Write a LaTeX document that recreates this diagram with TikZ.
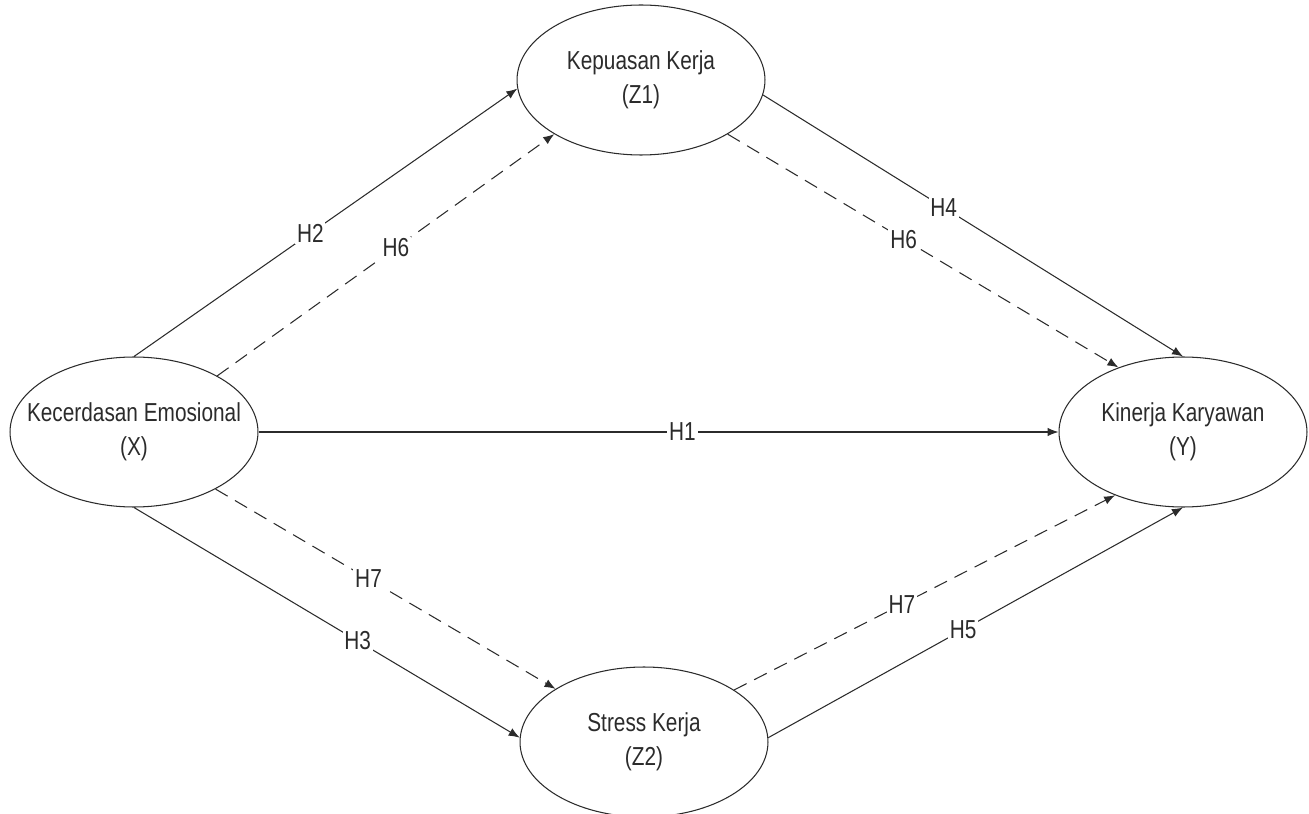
\documentclass[tikz,border=0pt]{standalone}
\usepackage{fontspec}
\setmainfont[FakeStretch=0.8]{Liberation Sans}
\usepackage{tikz}
\usetikzlibrary{arrows.meta,shapes.geometric}
\definecolor{Ink}{HTML}{2B2B2B}

\begin{document}
\begin{tikzpicture}[
  x=0.02cm,y=-0.02cm,
  every node/.style={font=\fontsize{14.8}{19.5}\selectfont,align=center,text=Ink},
  latent/.style={draw=Ink,ellipse,line width=0.6pt,minimum width=4.96cm,minimum height=3cm,inner sep=0pt},
  arr/.style={-{Latex[length=2.2mm,width=1.7mm]},line width=0.6pt,draw=Ink},
  ind/.style={arr,dash pattern=on 0.28cm off 0.17cm},
  hyp/.style={fill=white,inner sep=1pt}
]
  \useasboundingbox (0,0) rectangle (1309,814);
  \node[latent,label={[align=center]center:Kecerdasan Emosional\\(X)}] (ke) at (134,432) {};
  \node[latent,label={[align=center]center:Kepuasan Kerja\\(Z1)}] (kp) at (641,80) {};
  \node[latent,label={[align=center]center:Stress Kerja\\(Z2)}] (st) at (644,742) {};
  \node[latent,label={[align=center]center:Kinerja Karyawan\\(Y)}] (ki) at (1183,432) {};
  % direct paths
  \draw[arr] (ke.90) -- node[hyp,pos=0.46] {H2} (kp.184);
  \draw[arr] (ke.east) -- node[hyp,pos=0.53] {H1} (ki.west);
  \draw[arr] (ke.270) -- node[hyp,pos=0.58] {H3} (st.178);
  \draw[arr] (kp.-7) -- node[hyp,pos=0.43] {H4} (ki.90);
  \draw[arr] (st.2) -- node[hyp,pos=0.47] {H5} (ki.270);
  % mediation paths
  \draw[ind] (ke.34) -- node[hyp,pos=0.53] {H6} (kp.212);
  \draw[ind] (kp.-32) -- node[hyp,pos=0.45] {H6} (ki.135);
  \draw[ind] (ke.-35) -- node[hyp,pos=0.45] {H7} (st.149);
  \draw[ind] (st.30) -- node[hyp,pos=0.44] {H7} (ki.223);
\end{tikzpicture}
\end{document}
